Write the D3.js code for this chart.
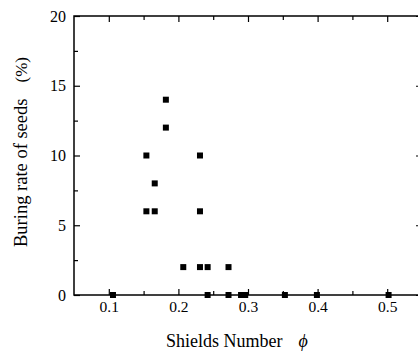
<!DOCTYPE html>
<html>
<head>
<meta charset="utf-8">
<script src="https://cdn.jsdelivr.net/npm/d3@7"></script>
<style>
  body { margin: 0; background: #fff; }
  text { font-family: "Liberation Serif", "Times New Roman", serif; fill: #000; }
</style>
</head>
<body>
<div id="chart"></div>
<script>
  // Shields number vs. burying rate of seeds (%)
  const shields = [0.106, 0.154, 0.154, 0.166, 0.166, 0.182, 0.182, 0.207, 0.231, 0.231,
                   0.231, 0.242, 0.242, 0.272, 0.272, 0.290, 0.296, 0.353, 0.399, 0.502];
  const rate = [0, 10, 6, 8, 6, 14, 12, 2, 10, 6,
                2, 2, 0, 2, 0, 0, 0, 0, 0, 0];
  const xTicks = [0.1, 0.2, 0.3, 0.4, 0.5];
  const xMinor = [0.15, 0.25, 0.35, 0.45];
  const yTicks = [0, 5, 10, 15, 20];
  const yMinor = [2.5, 7.5, 12.5, 17.5];

  const W = 418, H = 351;
  const margin = {top: 16, right: -4, bottom: 56, left: 74};
  const width = W - margin.left - margin.right;
  const height = H - margin.top - margin.bottom;

  const svg = d3.select("#chart").append("svg")
    .attr("width", W)
    .attr("height", H);

  const g = svg.append("g")
    .attr("transform", "translate(" + margin.left + "," + margin.top + ")");

  const x = d3.scaleLinear().domain([0.05, 0.55]).range([0, width]);
  const y = d3.scaleLinear().domain([0, 20]).range([height, 0]);

  // frame
  g.append("rect")
    .attr("width", width)
    .attr("height", height)
    .attr("fill", "none")
    .attr("stroke", "#000")
    .attr("stroke-width", 1.5);

  function inner(axis, values, size) {
    return axis.tickValues(values).tickSize(size).tickFormat("");
  }

  // inward ticks on all four sides
  g.append("g").attr("transform", "translate(0," + height + ")")
    .call(inner(d3.axisTop(x), xTicks, 6));
  g.append("g").attr("transform", "translate(0," + height + ")")
    .call(inner(d3.axisTop(x), xMinor, 4));
  g.append("g").call(inner(d3.axisBottom(x), xTicks, 6));
  g.append("g").call(inner(d3.axisBottom(x), xMinor, 4));

  g.append("g").call(inner(d3.axisRight(y), yTicks, 6));
  g.append("g").call(inner(d3.axisRight(y), yMinor, 4));
  g.append("g").attr("transform", "translate(" + width + ",0)")
    .call(inner(d3.axisLeft(y), yTicks, 6));
  g.append("g").attr("transform", "translate(" + width + ",0)")
    .call(inner(d3.axisLeft(y), yMinor, 4));

  // tick labels outside the frame
  g.append("g").attr("class", "xlab").attr("transform", "translate(0," + height + ")")
    .call(d3.axisBottom(x).tickValues(xTicks).tickSize(0).tickPadding(18).tickFormat(d3.format(".1f")));
  g.append("g").attr("class", "ylab")
    .call(d3.axisLeft(y).tickValues(yTicks).tickSize(0).tickPadding(8).tickFormat(d3.format("d")));

  g.selectAll(".domain").remove();
  g.selectAll(".tick line").attr("stroke", "#000").attr("stroke-width", 1.2);
  g.selectAll(".tick text")
    .attr("font-family", '"Liberation Serif", serif')
    .attr("fill", "#000");
  g.selectAll(".xlab .tick text").attr("font-size", 15.5).attr("dy", "-0.05em");
  g.selectAll(".ylab .tick text").attr("font-size", 16);

  // points
  const pts = shields.map((s, i) => ({s: s, r: rate[i]}));
  g.selectAll("rect.pt").data(pts).enter().append("rect")
    .attr("class", "pt")
    .attr("x", d => x(d.s) - 3)
    .attr("y", d => y(d.r) - 3)
    .attr("width", 6)
    .attr("height", 6)
    .attr("fill", "#000");

  // axis titles
  const xt = svg.append("text")
    .attr("x", 237)
    .attr("y", 347)
    .attr("text-anchor", "middle")
    .attr("font-size", 18);
  xt.append("tspan").text("Shields Number");
  xt.append("tspan").attr("dx", 16).attr("font-style", "italic").text("\u03d5");

  const yt = svg.append("text")
    .attr("transform", "translate(27,152) rotate(-90)")
    .attr("text-anchor", "middle")
    .attr("font-size", 18.5);
  yt.append("tspan").text("Buring rate of seeds");
  yt.append("tspan").attr("dx", 16).attr("font-size", 17).text("(%)");
</script>
</body>
</html>
